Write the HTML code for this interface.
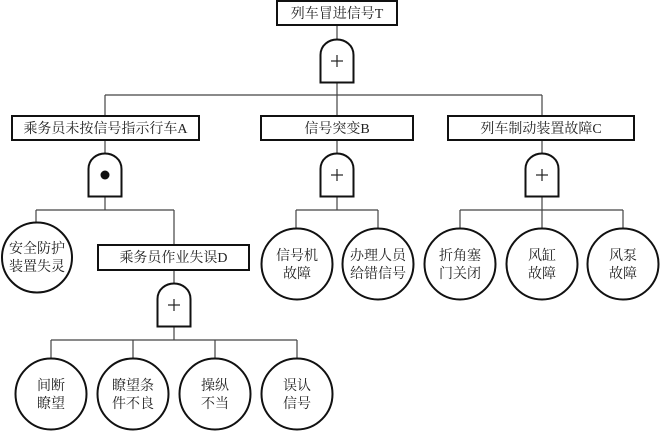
<!DOCTYPE html>
<html><head><meta charset="utf-8"><style>
body{margin:0;background:#fff;}
svg{display:block;}
text{font-family:"Liberation Serif","Noto Serif CJK SC",serif;font-size:14px;fill:#222;text-anchor:middle;}
</style></head><body>
<svg width="660" height="431" viewBox="0 0 660 431" xmlns="http://www.w3.org/2000/svg">
<defs>
<path id="g" d="M-16.5,21.5 L-16.5,-6 C-16.5,-16 -8,-21.5 0,-21.5 C8,-21.5 16.5,-16 16.5,-6 L16.5,21.5 Z" fill="#fff" stroke="#111" stroke-width="2"/>
</defs>
<g stroke="#444" stroke-width="1.2" fill="none">
<!-- top -->
<line x1="337" y1="25" x2="337" y2="40"/>
<line x1="337" y1="82" x2="337" y2="95"/>
<line x1="105" y1="95" x2="542" y2="95"/>
<line x1="105" y1="95" x2="105" y2="116"/>
<line x1="542" y1="95" x2="542" y2="116"/>
<line x1="337" y1="95" x2="337" y2="116"/>
<!-- A -->
<line x1="105" y1="140" x2="105" y2="154"/>
<line x1="105" y1="196" x2="105" y2="210"/>
<line x1="36" y1="210" x2="174" y2="210"/>
<line x1="36" y1="210" x2="36" y2="222"/>
<line x1="174" y1="210" x2="174" y2="245"/>
<!-- D -->
<line x1="174" y1="270" x2="174" y2="284"/>
<line x1="174" y1="326" x2="174" y2="340"/>
<line x1="51" y1="340" x2="297" y2="340"/>
<line x1="51" y1="340" x2="51" y2="358"/>
<line x1="133" y1="340" x2="133" y2="358"/>
<line x1="215" y1="340" x2="215" y2="358"/>
<line x1="297" y1="340" x2="297" y2="358"/>
<!-- B -->
<line x1="337" y1="140" x2="337" y2="154"/>
<line x1="337" y1="196" x2="337" y2="210"/>
<line x1="296" y1="210" x2="378" y2="210"/>
<line x1="296" y1="210" x2="296" y2="228"/>
<line x1="378" y1="210" x2="378" y2="228"/>
<!-- C -->
<line x1="542" y1="140" x2="542" y2="154"/>
<line x1="542" y1="196" x2="542" y2="228"/>
<line x1="460" y1="210" x2="623" y2="210"/>
<line x1="460" y1="210" x2="460" y2="228"/>
<line x1="623" y1="210" x2="623" y2="228"/>
</g>
<g fill="#fff" stroke="#111" stroke-width="2">
<rect x="277" y="1" width="120" height="24"/>
<rect x="12" y="116" width="187" height="24"/>
<rect x="261" y="116" width="152" height="24"/>
<rect x="448" y="116" width="186" height="24"/>
<rect x="98" y="245" width="151" height="25"/>
<circle cx="37" cy="257.5" r="35"/>
<circle cx="297" cy="264" r="35.5"/>
<circle cx="378" cy="264" r="35.5"/>
<circle cx="460" cy="264" r="35.5"/>
<circle cx="542" cy="264" r="35.5"/>
<circle cx="623" cy="264" r="35.5"/>
<circle cx="51" cy="394" r="35.5"/>
<circle cx="133" cy="394" r="35.5"/>
<circle cx="215" cy="394" r="35.5"/>
<circle cx="297" cy="394" r="35.5"/>
</g>
<use href="#g" x="337" y="61"/>
<use href="#g" x="105" y="175"/>
<use href="#g" x="337" y="175"/>
<use href="#g" x="542" y="175"/>
<use href="#g" x="174" y="305"/>
<g stroke="#222" stroke-width="1.2">
<line x1="331" y1="61" x2="343" y2="61"/><line x1="337" y1="55" x2="337" y2="67"/>
<line x1="331" y1="175" x2="343" y2="175"/><line x1="337" y1="169" x2="337" y2="181"/>
<line x1="536" y1="175" x2="548" y2="175"/><line x1="542" y1="169" x2="542" y2="181"/>
<line x1="168" y1="305" x2="180" y2="305"/><line x1="174" y1="299" x2="174" y2="311"/>
</g>
<circle cx="105" cy="175" r="4.5" fill="#111"/>
<text x="337" y="18">列车冒进信号T</text>
<text x="105.5" y="133">乘务员未按信号指示行车A</text>
<text x="337" y="133">信号突变B</text>
<text x="541" y="133">列车制动装置故障C</text>
<text x="173.5" y="262">乘务员作业失误D</text>
<text x="37" y="253">安全防护</text><text x="37" y="271">装置失灵</text>
<text x="297" y="260">信号机</text><text x="297" y="278">故障</text>
<text x="378" y="260">办理人员</text><text x="378" y="278">给错信号</text>
<text x="460" y="260">折角塞</text><text x="460" y="278">门关闭</text>
<text x="542" y="260">风缸</text><text x="542" y="278">故障</text>
<text x="623" y="260">风泵</text><text x="623" y="278">故障</text>
<text x="51" y="390">间断</text><text x="51" y="408">瞭望</text>
<text x="133" y="390">瞭望条</text><text x="133" y="408">件不良</text>
<text x="215" y="390">操纵</text><text x="215" y="408">不当</text>
<text x="297" y="390">误认</text><text x="297" y="408">信号</text>
</svg>
</body></html>
